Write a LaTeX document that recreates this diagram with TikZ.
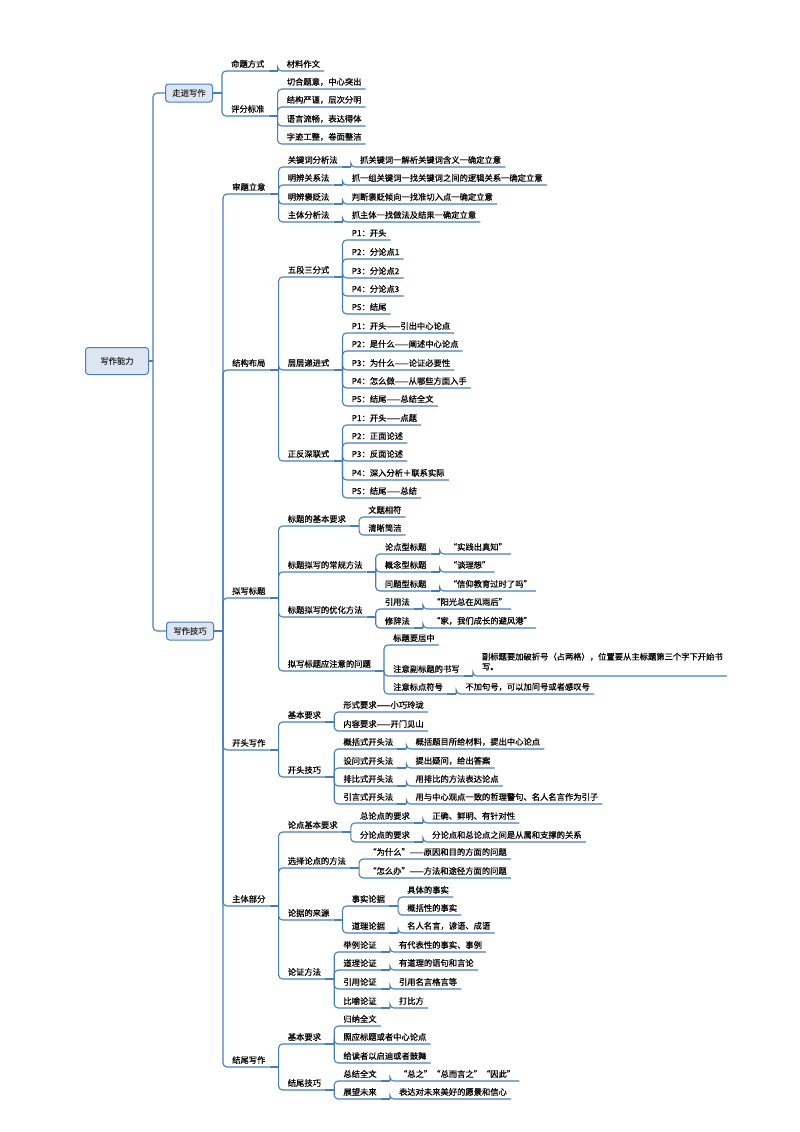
\documentclass[tikz,border=0pt]{standalone}
\usepackage{fontspec}
\setmainfont[FakeBold=0.6]{Noto Sans CJK SC}
\usetikzlibrary{calc}
\definecolor{ln}{HTML}{4A7EBB}
\definecolor{bx}{HTML}{DCE6F2}
\tikzset{
 x=1pt,y=1pt,
 conn/.style={draw=ln,line width=1.1pt},
 lab/.style={inner xsep=4pt,inner ysep=3pt,font=\fontsize{8.3}{10}\selectfont,text=black},
 box/.style={draw=ln,fill=bx,rounded corners=3pt,line width=1pt,font=\fontsize{8.3}{10}\selectfont,text=black!80}
}
\newcommand\kid[4]{%
 \path (#2) ++(9,0) coordinate (#1b);
 \path (#1b |- 0,-#3) ++(5,0) coordinate (#1a);
 \node[lab,anchor=south west] (#1) at (#1a) {#4};
 \draw[conn] (#2) -- (#1b);
 \draw[conn,rounded corners=4pt] (#1b) |- (#1.south east);
}
\begin{document}
\begin{tikzpicture}
\useasboundingbox (0,0) rectangle (800,-1132);
\fill[white] (0,0) rectangle (800,-1132);
\node[box,minimum width=63,minimum height=27] (root) at (117,-361) {写作能力};
\node[box,minimum width=47,minimum height=18] (zj) at (189,-93) {走进写作};
\node[box,minimum width=47,minimum height=18] (jq) at (190,-631) {写作技巧};
\draw[conn] (root.east) -- ++(4,0) coordinate (rb);
\draw[conn,rounded corners=4pt] (rb) |- (zj.west);
\draw[conn,rounded corners=4pt] (rb) |- (jq.west);
% 走进写作
\kid{mt}{zj.east}{71}{命题方式}
\kid{mta}{mt.south east}{71}{材料作文}
\kid{pf}{zj.east}{116}{评分标准}
\kid{pfa}{pf.south east}{89}{切合题意，中心突出}
\kid{pfb}{pf.south east}{107}{结构严谨，层次分明}
\kid{pfc}{pf.south east}{126}{语言流畅，表达得体}
\kid{pfd}{pf.south east}{144}{字迹工整，卷面整洁}
% 审题立意
\kid{st}{jq.east}{194}{审题立意}
\kid{sta}{st.south east}{167}{关键词分析法}
\kid{staa}{sta.south east}{167}{抓关键词一解析关键词含义一确定立意}
\kid{stb}{st.south east}{185}{明辨关系法}
\kid{stba}{stb.south east}{185}{抓一组关键词一找关键词之间的逻辑关系一确定立意}
\kid{stc}{st.south east}{204}{明辨褒贬法}
\kid{stca}{stc.south east}{204}{判断褒贬倾向一找准切入点一确定立意}
\kid{std}{st.south east}{222}{主体分析法}
\kid{stda}{std.south east}{222}{抓主体一找做法及结果一确定立意}
% 结构布局
\kid{jg}{jq.east}{370}{结构布局}
\kid{wd}{jg.south east}{277}{五段三分式}
\kid{wda}{wd.south east}{240}{P1：开头}
\kid{wdb}{wd.south east}{259}{P2：分论点1}
\kid{wdc}{wd.south east}{278}{P3：分论点2}
\kid{wdd}{wd.south east}{296}{P4：分论点3}
\kid{wde}{wd.south east}{314}{P5：结尾}
\kid{cc}{jg.south east}{370}{层层递进式}
\kid{cca}{cc.south east}{333}{P1：开头——引出中心论点}
\kid{ccb}{cc.south east}{351}{P2：是什么——阐述中心论点}
\kid{ccc}{cc.south east}{370}{P3：为什么——论证必要性}
\kid{ccd}{cc.south east}{388}{P4：怎么做——从哪些方面入手}
\kid{cce}{cc.south east}{406}{P5：结尾——总结全文}
\kid{zf}{jg.south east}{461}{正反深联式}
\kid{zfa}{zf.south east}{425}{P1：开头——点题}
\kid{zfb}{zf.south east}{443}{P2：正面论述}
\kid{zfc}{zf.south east}{461}{P3：反面论述}
\kid{zfd}{zf.south east}{480}{P4：深入分析＋联系实际}
\kid{zfe}{zf.south east}{498}{P5：结尾——总结}
% 拟写标题
\kid{nx}{jq.east}{598}{拟写标题}
\kid{nxa}{nx.south east}{526}{标题的基本要求}
\kid{nxaa}{nxa.south east}{517}{文题相符}
\kid{nxab}{nxa.south east}{535}{清晰简洁}
\kid{nxb}{nx.south east}{572}{标题拟写的常规方法}
\kid{nxba}{nxb.south east}{554}{论点型标题}
\kid{nxbaa}{nxba.south east}{554}{“实践出真知”}
\kid{nxbb}{nxb.south east}{572}{概念型标题}
\kid{nxbba}{nxbb.south east}{572}{“谈理想”}
\kid{nxbc}{nxb.south east}{591}{问题型标题}
\kid{nxbca}{nxbc.south east}{591}{“信仰教育过时了吗”}
\kid{nxc}{nx.south east}{617}{标题拟写的优化方法}
\kid{nxca}{nxc.south east}{609}{引用法}
\kid{nxcaa}{nxca.south east}{609}{“阳光总在风雨后”}
\kid{nxcb}{nxc.south east}{628}{修辞法}
\kid{nxcba}{nxcb.south east}{628}{“家，我们成长的避风港”}
\kid{nxd}{nx.south east}{671}{拟写标题应注意的问题}
\kid{nxda}{nxd.south east}{645}{标题要居中}
\kid{nxdb}{nxd.south east}{676}{注意副标题的书写}
\kid{nxdba}{nxdb.south east}{676}{\begin{tabular}{@{}l@{}}副标题要加破折号（占两格），位置要从主标题第三个字下开始书\\写。\end{tabular}}
\kid{nxdc}{nxd.south east}{694}{注意标点符号}
\kid{nxdca}{nxdc.south east}{694}{不加句号，可以加问号或者感叹号}
% 开头写作
\kid{kt}{jq.east}{750}{开头写作}
\kid{kta}{kt.south east}{722}{基本要求}
\kid{ktaa}{kta.south east}{712}{形式要求——小巧玲珑}
\kid{ktab}{kta.south east}{731}{内容要求——开门见山}
\kid{ktb}{kt.south east}{777}{开头技巧}
\kid{ktba}{ktb.south east}{749}{概括式开头法}
\kid{ktbaa}{ktba.south east}{749}{概括题目所给材料，提出中心论点}
\kid{ktbb}{ktb.south east}{768}{设问式开头法}
\kid{ktbba}{ktbb.south east}{768}{提出疑问，给出答案}
\kid{ktbc}{ktb.south east}{786}{排比式开头法}
\kid{ktbca}{ktbc.south east}{786}{用排比的方法表达论点}
\kid{ktbd}{ktb.south east}{804}{引言式开头法}
\kid{ktbda}{ktbd.south east}{804}{用与中心观点一致的哲理警句、名人名言作为引子}
% 主体部分
\kid{zt}{jq.east}{906}{主体部分}
\kid{zta}{zt.south east}{832}{论点基本要求}
\kid{ztaa}{zta.south east}{823}{总论点的要求}
\kid{ztaaa}{ztaa.south east}{823}{正确、鲜明、有针对性}
\kid{ztab}{zta.south east}{842}{分论点的要求}
\kid{ztaba}{ztab.south east}{842}{分论点和总论点之间是从属和支撑的关系}
\kid{ztb}{zt.south east}{868}{选择论点的方法}
\kid{ztba}{ztb.south east}{859}{“为什么”——原因和目的方面的问题}
\kid{ztbb}{ztb.south east}{878}{“怎么办”——方法和途径方面的问题}
\kid{ztc}{zt.south east}{920}{论据的来源}
\kid{ztca}{ztc.south east}{906}{事实论据}
\kid{ztcaa}{ztca.south east}{897}{具体的事实}
\kid{ztcab}{ztca.south east}{915}{概括性的事实}
\kid{ztcb}{ztc.south east}{933}{道理论据}
\kid{ztcba}{ztcb.south east}{933}{名人名言，谚语、成语}
\kid{ztd}{zt.south east}{979}{论证方法}
\kid{ztda}{ztd.south east}{952}{举例论证}
\kid{ztdaa}{ztda.south east}{952}{有代表性的事实、事例}
\kid{ztdb}{ztd.south east}{970}{道理论证}
\kid{ztdba}{ztdb.south east}{970}{有道理的语句和言论}
\kid{ztdc}{ztd.south east}{989}{引用论证}
\kid{ztdca}{ztdc.south east}{989}{引用名言格言等}
\kid{ztdd}{ztd.south east}{1008}{比喻论证}
\kid{ztdda}{ztdd.south east}{1008}{打比方}
% 结尾写作
\kid{jw}{jq.east}{1067}{结尾写作}
\kid{jwa}{jw.south east}{1044}{基本要求}
\kid{jwaa}{jwa.south east}{1026}{归纳全文}
\kid{jwab}{jwa.south east}{1044}{照应标题或者中心论点}
\kid{jwac}{jwa.south east}{1063}{给读者以启迪或者鼓舞}
\kid{jwb}{jw.south east}{1090}{结尾技巧}
\kid{jwba}{jwb.south east}{1081}{总结全文}
\kid{jwbaa}{jwba.south east}{1081}{“总之”“总而言之”“因此”}
\kid{jwbb}{jwb.south east}{1099}{展望未来}
\kid{jwbba}{jwbb.south east}{1099}{表达对未来美好的愿景和信心}
\end{tikzpicture}
\end{document}
